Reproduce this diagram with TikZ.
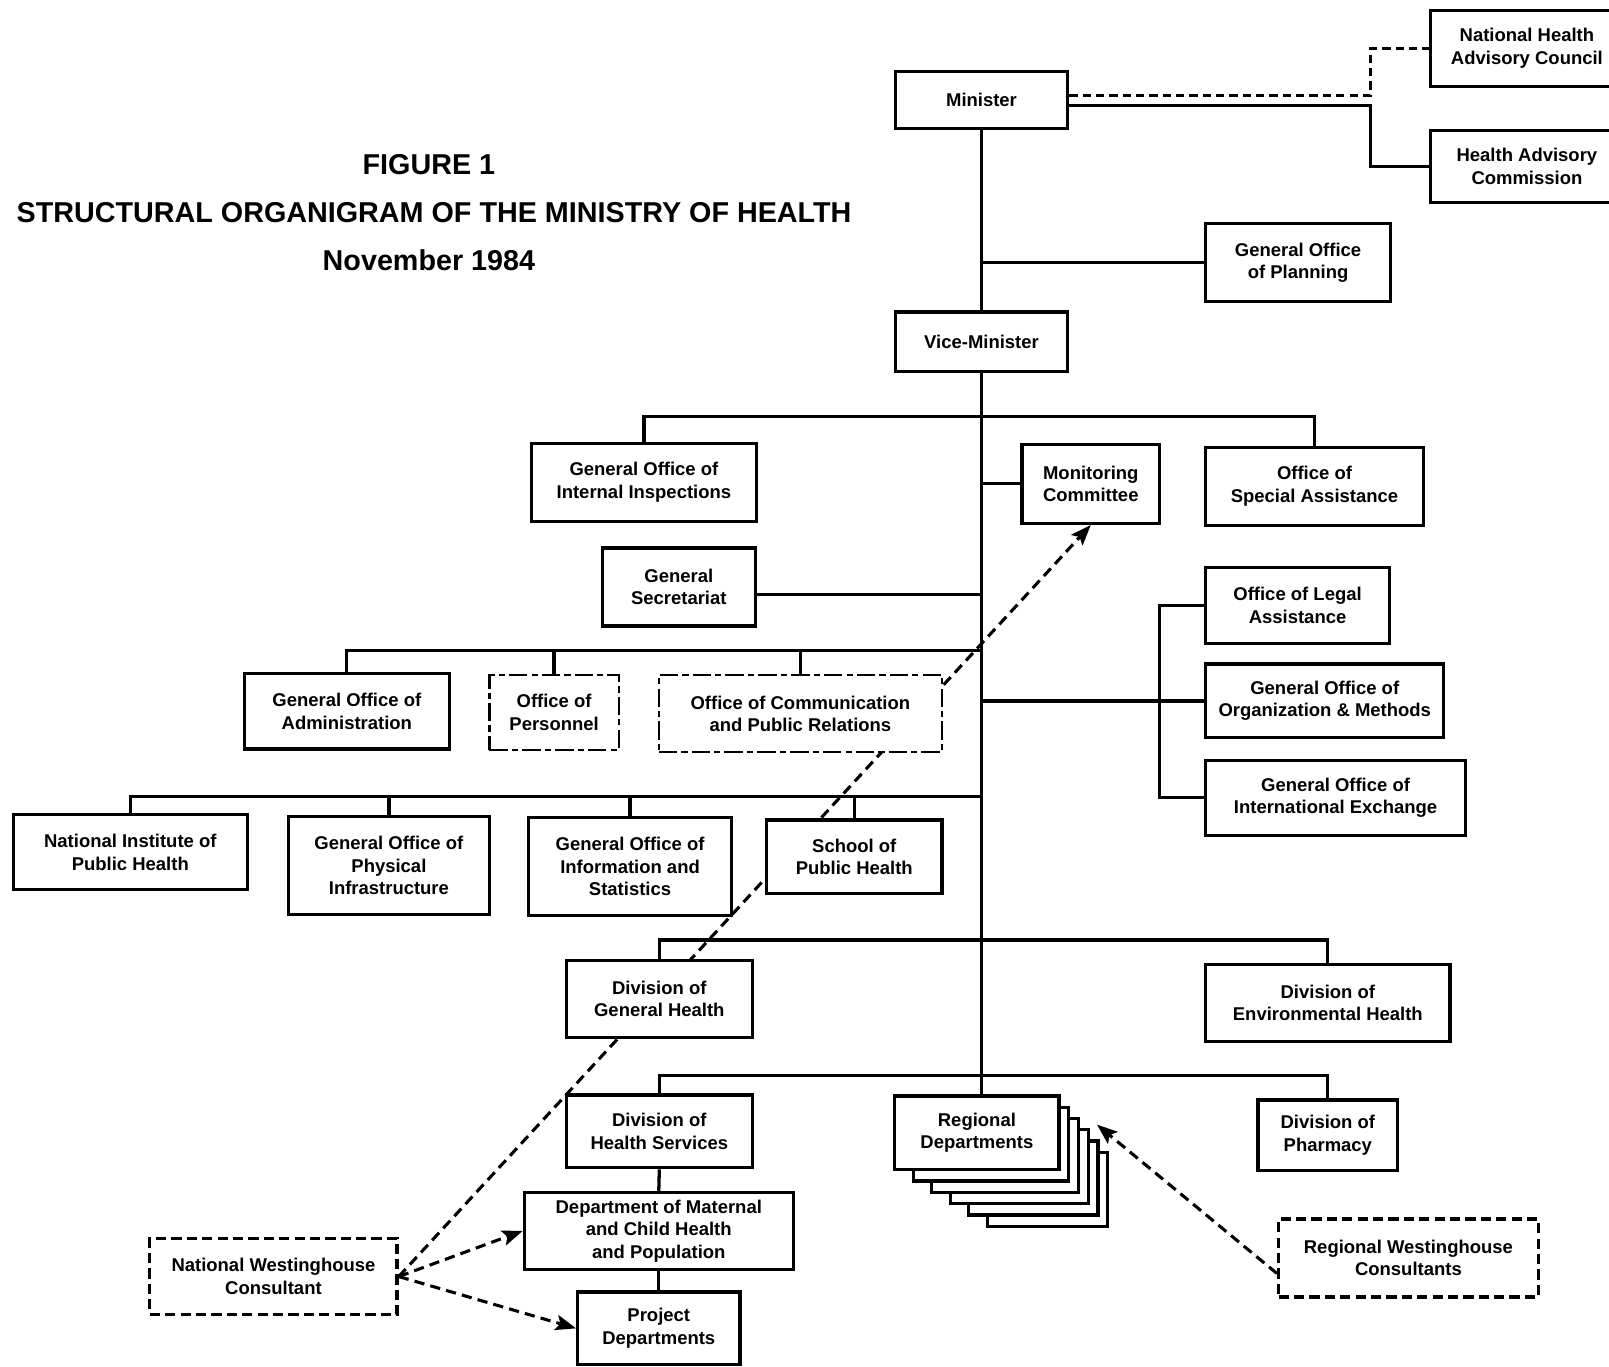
\documentclass[tikz,border=0pt]{standalone}
\usepackage{fontspec}
\setmainfont{Liberation Sans}
\usetikzlibrary{arrows.meta,calc}
\pgfdeclarelayer{background}
\pgfsetlayers{background,main}
\begin{document}
\begin{tikzpicture}[x=0.5pt,y=-0.5pt,
  box/.style={draw, line width=1.6pt, fill=white, align=center,
    font=\bfseries\fontsize{9}{11}\selectfont, inner sep=0pt},
  dbox/.style={box, dash pattern=on 5pt off 2.5pt},
  worn/.style={box, line width=1.2pt, dash pattern=on 9pt off 2pt on 3pt off 2pt},
  conn/.style={line width=1.6pt},
  dconn/.style={line width=1.4pt, dash pattern=on 4pt off 2.5pt},
  darrow/.style={line width=1.5pt, dash pattern=on 5pt off 3pt,
    -{Stealth[length=10pt,width=7.5pt,inset=2pt]}},
  title/.style={font=\bfseries\fontsize{14}{16}\selectfont}]
\useasboundingbox (0,0) rectangle (1568,1332);

% titles
\node[title] (t1) at (418,160) {FIGURE 1};
\node[title] (t2) at (423,207) {STRUCTURAL ORGANIGRAM OF THE MINISTRY OF HEALTH};
\node[title] (t3) at (418,254) {November 1984};

% boxes
\node[box, minimum width=84pt, minimum height=27.5pt] (minister) at (956.5,97.5) {Minister};
\node[box, minimum width=94pt, minimum height=37pt] (nhac) at (1488,47) {National Health\\Advisory Council};
\node[box, minimum width=94pt, minimum height=35pt] (hac) at (1488,162) {Health Advisory\\Commission};
\node[box, minimum width=90pt, minimum height=38pt] (planning) at (1265,256) {General Office\\of Planning};
\node[box, minimum width=83.5pt, minimum height=29pt] (vice) at (956.5,333) {Vice-Minister};
\node[box, minimum width=109.5pt, minimum height=38pt] (inspections) at (627.5,470) {General Office of\\Internal Inspections};
\node[box, minimum width=67pt, minimum height=38.5pt] (monitoring) at (1063,471.5) {Monitoring\\Committee};
\node[box, minimum width=106pt, minimum height=38pt] (special) at (1281,474) {Office of\\Special Assistance};
\node[box, minimum width=74.5pt, minimum height=38pt] (secretariat) at (661.5,572) {General\\Secretariat};
\node[box, minimum width=100pt, minimum height=37pt] (admin) at (338,693) {General Office of\\Administration};
\node[worn, minimum width=63pt, minimum height=36.5pt] (personnel) at (540,694.5) {Office of\\Personnel};
\node[worn, minimum width=138pt, minimum height=37.5pt] (commun) at (780,695.5) {Office of Communication\\and Public Relations};
\node[box, minimum width=89.5pt, minimum height=37pt] (legal) at (1264.5,590) {Office of Legal\\Assistance};
\node[box, minimum width=116pt, minimum height=36pt] (orgmeth) at (1291,683) {General Office of\\Organization \& Methods};
\node[box, minimum width=126.5pt, minimum height=36.5pt] (intex) at (1301.5,777.5) {General Office of\\International Exchange};
\node[box, minimum width=114pt, minimum height=36.5pt] (natinst) at (127,830.5) {National Institute of\\Public Health};
\node[box, minimum width=98pt, minimum height=47.5pt] (physinfra) at (379,843.5) {General Office of\\Physical\\Infrastructure};
\node[box, minimum width=99pt, minimum height=47.5pt] (infostat) at (614,844.5) {General Office of\\Information and\\Statistics};
\node[box, minimum width=85.5pt, minimum height=36pt] (school) at (832.5,835) {School of\\Public Health};
\node[box, minimum width=90.5pt, minimum height=37.5pt] (genhealth) at (642.5,973.5) {Division of\\General Health};
\node[box, minimum width=119pt, minimum height=37.5pt] (envhealth) at (1294,977.5) {Division of\\Environmental Health};
\node[box, minimum width=90.5pt, minimum height=35.5pt] (healthserv) at (642.5,1102.5) {Division of\\Health Services};
\foreach \k in {5,4,3,2,1}
  \draw[line width=1.6pt, fill=white] ({872+18*\k},{1068+11*\k}) rectangle ({1032+9.5*\k},{1140+11*\k});
\node[box, minimum width=80pt, minimum height=36pt] (regional) at (952,1104) {Regional\\Departments};
\node[box, minimum width=68pt, minimum height=34.5pt] (pharmacy) at (1294,1106.5) {Division of\\Pharmacy};
\node[box, minimum width=131pt, minimum height=37.5pt] (maternal) at (642,1199.5) {Department of Maternal\\and Child Health\\and Population};
\node[box, minimum width=79pt, minimum height=35.5pt] (project) at (642,1294.5) {Project\\Departments};
\node[dbox, minimum width=120.5pt, minimum height=37pt] (nwc) at (266.5,1244) {National Westinghouse\\Consultant};
\node[dbox, minimum width=126.5pt, minimum height=38pt] (rwc) at (1372.5,1226) {Regional Westinghouse\\Consultants};

% junction coordinates
\coordinate (T) at (956.5,0);
\coordinate (barA) at (956.5,406);
\coordinate (barB) at (956.5,634);
\coordinate (barC) at (956.5,776);
\coordinate (barD) at (956.5,916);
\coordinate (barE) at (956.5,1048);
\coordinate (br) at (1130,683);
\coordinate (rdtip) at (1069,1096);

% solid connectors
\draw[conn] (minister.south) -- (minister.south |- vice.north);
\draw[conn] (vice.south) -- (vice.south |- regional.north);
\draw[dconn] ([yshift=2.25pt]minister.east) -| ([xshift=-28.5pt]nhac.west) -- (nhac.west);
\draw[conn] ([yshift=-2.75pt]minister.east) -| ([xshift=-28.5pt]hac.west) -- (hac.west);
\draw[conn] (planning.west) -- (planning.west -| T);
\draw[conn] (inspections.north) |- (barA) -| (special.north);
\draw[conn] (monitoring.west) -- (monitoring.west -| T);
\draw[conn] ([yshift=-3.5pt]secretariat.east) -- ([yshift=-3.5pt]secretariat.east -| T);
\draw[conn] (admin.north) |- (barB);
\draw[conn] (personnel.north) -- (personnel.north |- barB);
\draw[conn] (commun.north) -- (commun.north |- barB);
\draw[conn] (orgmeth.west -| T) -- (orgmeth.west);
\draw[conn] (legal.west) -| (br) |- (intex.west);
\draw[conn] (natinst.north) |- (barC);
\draw[conn] (physinfra.north) -- (physinfra.north |- barC);
\draw[conn] (infostat.north) -- (infostat.north |- barC);
\draw[conn] (school.north) -- (school.north |- barC);
\draw[conn] (genhealth.north) |- (barD) -| (envhealth.north);
\draw[conn] (healthserv.north) |- (barE) -| (pharmacy.north);
\draw[conn] (healthserv.south) -- (maternal.north);
\draw[conn] (maternal.south) -- (project.north);

% dashed arrows
\begin{pgfonlayer}{background}
\draw[darrow] (nwc.east) -- (monitoring.south);
\end{pgfonlayer}
\draw[darrow] (nwc.east) -- (maternal.west);
\draw[darrow] (nwc.east) -- (project.west);
\draw[darrow] ([yshift=-7.5pt]rwc.west) -- (rdtip);
\end{tikzpicture}
\end{document}
